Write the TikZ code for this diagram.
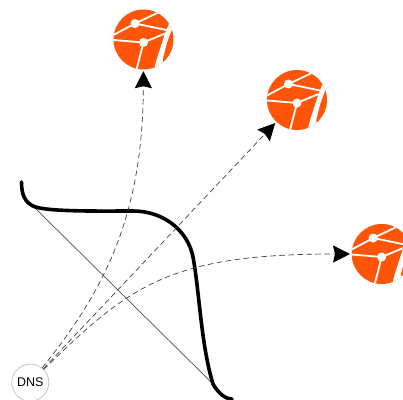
\documentclass[tikz,border=0pt]{standalone}
\usepackage{fontspec}
\setmainfont{Liberation Sans}
\usetikzlibrary{arrows.meta}
\definecolor{globeorange}{HTML}{FF5508}

\begin{document}
\begin{tikzpicture}[
    x=1pt, y=-1pt,
    dnsnode/.style={circle, draw=black!25, line width=0.7pt, minimum size=37pt, inner sep=0pt, font=\fontsize{12.5}{12.5}\selectfont},
    globe/.style={circle, fill=globeorange, minimum size=60pt, inner sep=0pt, path picture={
        \begin{scope}[shift={(path picture bounding box.center)}]
        \fill[white, rounded corners=1.2pt] (26,-17) -- (21.5,-6) -- (12.5,22) -- (10.5,31) -- (25,34) -- (19,21) -- (23.2,4) -- (27.5,-8) -- (32,-16) -- cycle;
        \draw[white, line width=1.8pt] (-30,-4.5) -- (-8.5,-16) -- (14.8,-27);
        \draw[white, line width=1.8pt] (-8.5,-16) -- (23,-9.5);
        \draw[white, line width=1.8pt] (-30,0.5) -- (0,3) -- (21.5,-6);
        \draw[white, line width=1.8pt] (0,3) -- (-7,30);
        \fill[white] (-8.5,-16) circle (4.5);
        \fill[white] (0,3) circle (4.5);
        \end{scope}}},
    dasharrow/.style={-{Stealth[length=17pt, width=17pt, inset=2pt, color=black]}, dash pattern=on 5.5pt off 3.5pt, line width=0.7pt, black!75, shorten >=1.5pt}
]
\useasboundingbox (0,0) rectangle (403,399);

% ==== Nodes ====
\node[dnsnode] (dns) at (30.3,382.6) {DNS};
\node[globe] (globetop) at (143.5,39.5) {};
\node[globe] (globemid) at (297,100) {};
\node[globe] (globeright) at (381.7,254) {};

% ==== Curve and chord ====
\coordinate (curvestart) at (21.5,182);
\coordinate (chordstart) at (33,206);
\coordinate (chordend) at (213,384);
\coordinate (curveend) at (232,399);
\draw[line width=0.7pt, black!70] (chordstart) -- (chordend);
\draw[line width=3.6pt, line cap=round] (curvestart) .. controls (21.5,195) and (25,202) .. (chordstart) .. controls (45,212) and (100,211) .. (133,211) .. controls (164,211) and (188,231) .. (193,257) .. controls (199.5,292) and (201,345) .. (chordend) .. controls (217,391) and (224,399) .. (curveend);

% ==== Arrows ====
\draw[dasharrow] (dns) .. controls (105,290) and (143,215) .. (globetop);
\draw[dasharrow] (dns) -- (globemid);
\draw[dasharrow] (dns) .. controls (130,285) and (170,254) .. (globeright);

\end{tikzpicture}
\end{document}
